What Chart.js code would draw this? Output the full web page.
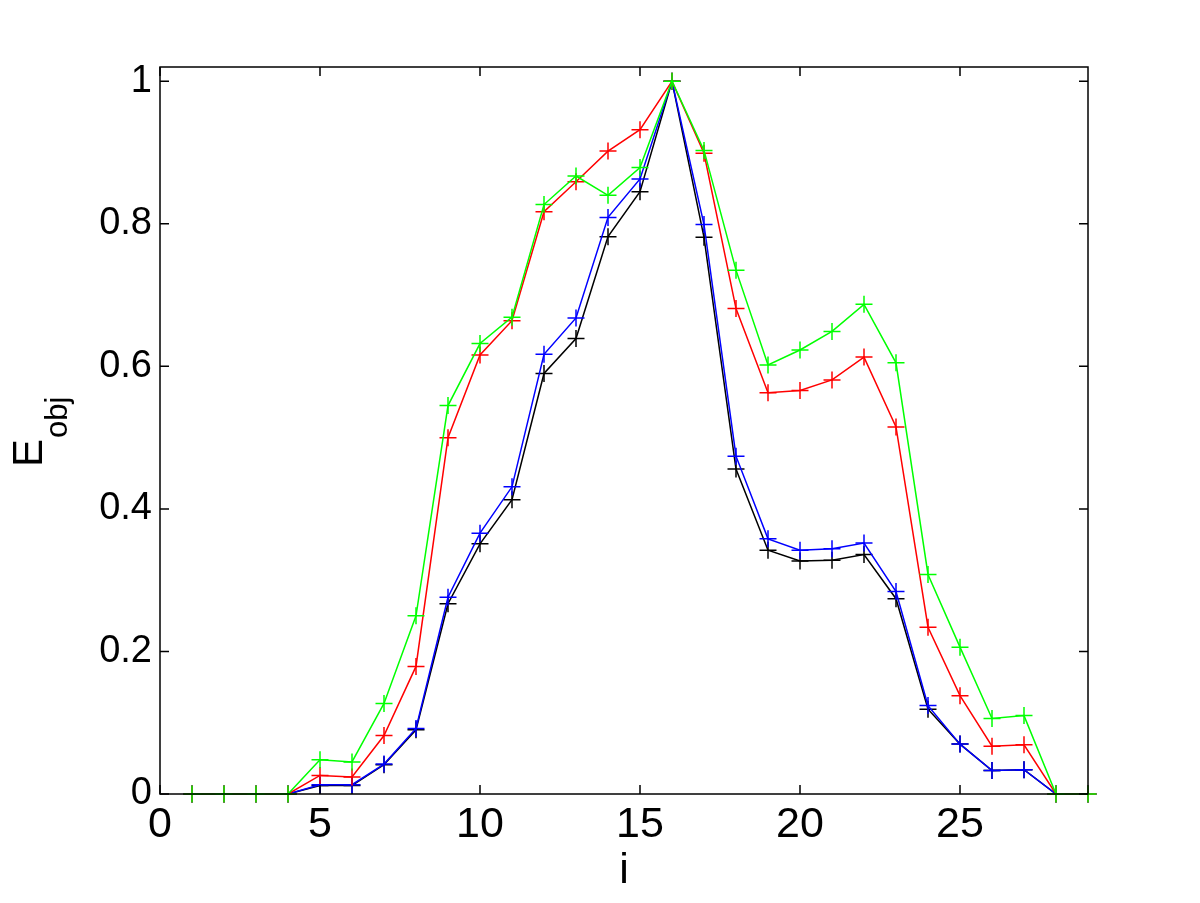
<!DOCTYPE html>
<html>
<head>
<meta charset="utf-8">
<script src="https://cdn.jsdelivr.net/npm/chart.js@4/dist/chart.umd.min.js"></script>
<style>
  html, body { margin: 0; padding: 0; background: #fff; }
  #wrap { width: 1200px; height: 903px; }
</style>
</head>
<body>
<div id="wrap"><canvas id="c"></canvas></div>
<script>
// i = 1..29
const idx = [1,2,3,4,5,6,7,8,9,10,11,12,13,14,15,16,17,18,19,20,21,22,23,24,25,26,27,28,29];

const blackVals = [0,0,0,0,0.012,0.012,0.041,0.090,0.267,0.351,0.413,0.590,0.639,0.782,0.845,1,0.781,0.456,0.342,0.327,0.328,0.336,0.274,0.119,0.070,0.033,0.034,0,0];
const blueVals  = [0,0,0,0,0.013,0.013,0.042,0.092,0.276,0.366,0.431,0.617,0.668,0.809,0.863,1,0.799,0.474,0.358,0.342,0.344,0.352,0.284,0.124,0.070,0.033,0.034,0,0];
const redVals   = [0,0,0,0,0.026,0.024,0.082,0.179,0.500,0.616,0.664,0.817,0.859,0.902,0.932,1,0.899,0.681,0.563,0.566,0.581,0.613,0.515,0.234,0.138,0.067,0.069,0,0];
const greenVals = [0,0,0,0,0.048,0.045,0.127,0.250,0.545,0.632,0.669,0.827,0.867,0.840,0.879,1,0.903,0.735,0.602,0.623,0.649,0.687,0.605,0.308,0.206,0.106,0.110,0,0];

const xTicks = [0,5,10,15,20,25];
const yTicks = [0,0.2,0.4,0.6,0.8,1];
const yTickLabels = ['0','0.2','0.4','0.6','0.8','1'];

const FONT = "'Liberation Sans', Arial, Helvetica, sans-serif";

function series(vals, color, order){
  return {
    data: idx.map((x, k) => ({x: x, y: vals[k]})),
    borderColor: color,
    backgroundColor: color,
    borderWidth: 1.5,
    pointStyle: 'cross',
    pointRadius: 8.5,
    pointHoverRadius: 8.5,
    pointBorderWidth: 1.5,
    pointBorderColor: color,
    tension: 0,
    clip: false,
    order: order
  };
}

// box + inward ticks like the matlab axes, and the E_obj label
const boxPlugin = {
  id: 'box',
  afterDraw(chart){
    const ctx = chart.ctx, a = chart.chartArea;
    const xs = chart.scales.x, ys = chart.scales.y;
    ctx.save();
    ctx.strokeStyle = '#000';
    ctx.lineWidth = 1.5;
    ctx.strokeRect(a.left, a.top, a.right - a.left, a.bottom - a.top);
    const tl = 9;
    ctx.beginPath();
    xTicks.forEach(v => {
      const px = xs.getPixelForValue(v);
      ctx.moveTo(px, a.bottom); ctx.lineTo(px, a.bottom - tl);
      ctx.moveTo(px, a.top); ctx.lineTo(px, a.top + tl);
    });
    yTicks.forEach(v => {
      const py = ys.getPixelForValue(v);
      ctx.moveTo(a.left, py); ctx.lineTo(a.left + tl, py);
      ctx.moveTo(a.right, py); ctx.lineTo(a.right - tl, py);
    });
    ctx.stroke();

    // y label with subscript
    ctx.fillStyle = '#000';
    ctx.translate(42, 467);
    ctx.rotate(-Math.PI / 2);
    ctx.textBaseline = 'alphabetic';
    ctx.textAlign = 'left';
    ctx.font = '42px ' + FONT;
    ctx.fillText('E', 0, 0);
    const w = ctx.measureText('E').width;
    ctx.font = '31px ' + FONT;
    ctx.fillText('obj', w + 1, 25);
    ctx.restore();
  }
};

new Chart(document.getElementById('c'), {
  type: 'line',
  data: {
    datasets: [
      series(blackVals, '#000000', 4),
      series(blueVals, '#0000ff', 3),
      series(redVals, '#ff0000', 2),
      series(greenVals, '#00ff00', 1)
    ]
  },
  options: {
    responsive: true,
    maintainAspectRatio: false,
    animation: false,
    layout: { padding: { left: 0, top: 67, right: 112, bottom: 0 } },
    plugins: { legend: { display: false }, tooltip: { enabled: false } },
    scales: {
      x: {
        type: 'linear',
        min: 0, max: 29,
        afterBuildTicks: s => { s.ticks = xTicks.map(v => ({value: v})); },
        afterFit: s => { s.height = 109; },
        grid: { display: false, drawTicks: false },
        border: { display: false },
        ticks: { color: '#000', padding: 5, font: { family: FONT, size: 43 } },
        title: { display: true, text: 'i', color: '#000', padding: { top: 0, bottom: 6 }, font: { family: FONT, size: 43 } }
      },
      y: {
        type: 'linear',
        min: 0, max: 1.02,
        afterBuildTicks: s => { s.ticks = yTicks.map(v => ({value: v})); },
        afterFit: s => { s.width = 160; },
        grid: { display: false, drawTicks: false },
        border: { display: false },
        ticks: {
          color: '#000', padding: 8, font: { family: FONT, size: 38 },
          callback: (v, k) => yTickLabels[k]
        }
      }
    }
  },
  plugins: [boxPlugin]
});
</script>
</body>
</html>
